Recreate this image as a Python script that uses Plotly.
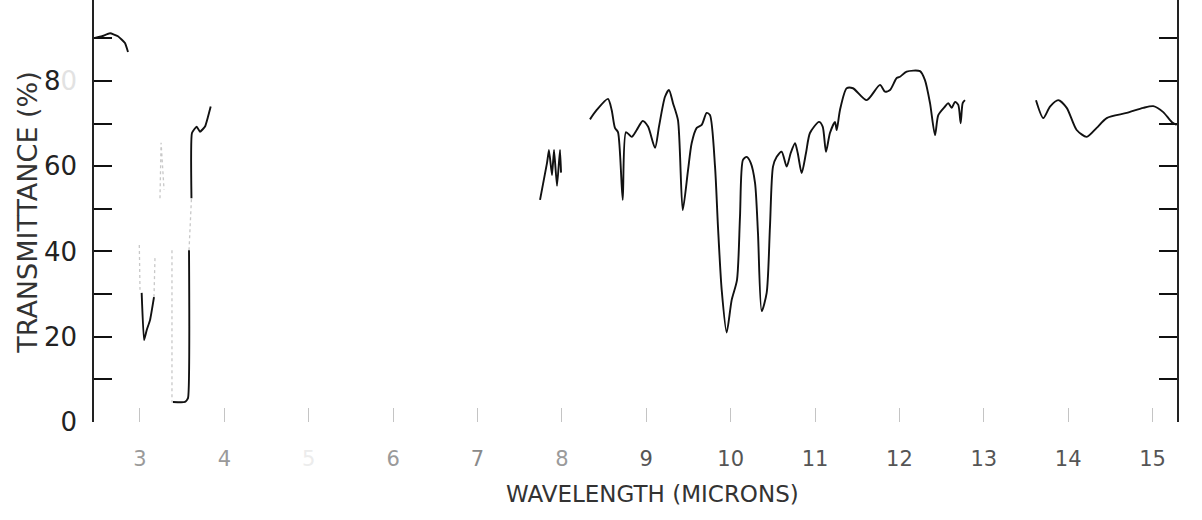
import plotly.graph_objects as go

# Infrared transmittance spectrum, wavelength in microns vs transmittance in %.
# Each list pair is a continuous run of the recorded trace; gaps are left
# where the recording is not legible.

# 2.5 µm baseline
seg_a_wl = [2.467, 2.55, 2.645, 2.739, 2.822, 2.858]
seg_a_t = [90.1, 90.5, 91.2, 90.5, 88.9, 86.8]

# O-H band near 3.05 µm
seg_b_wl = [3.02, 3.048, 3.08, 3.119, 3.166]
seg_b_t = [30.3, 19.2, 21.6, 23.9, 29.3]

# C-H band near 3.4-3.5 µm
seg_c1_wl = [3.391, 3.533, 3.569, 3.581]
seg_c1_t = [4.7, 4.7, 5.6, 40.3]
seg_c2_wl = [3.61, 3.616, 3.672, 3.711, 3.771, 3.806, 3.838]
seg_c2_t = [52.5, 67.8, 69.3, 68.1, 69.3, 71.6, 74.0]

# 7.7-8.0 µm doublet
seg_d_wl = [7.741, 7.824, 7.847, 7.883, 7.907, 7.942, 7.978, 7.99]
seg_d_t = [52.1, 60.8, 63.8, 57.9, 63.8, 55.4, 63.8, 58.5]

# fingerprint region 8.3-12.8 µm
seg_e_wl = [8.333, 8.413, 8.546, 8.590, 8.629, 8.665, 8.721, 8.760, 8.827,
            8.887, 8.958, 9.021, 9.104, 9.151, 9.222, 9.269, 9.317, 9.376,
            9.432, 9.495, 9.538, 9.598, 9.657, 9.716, 9.755, 9.815, 9.850,
            9.894, 9.953, 10.012, 10.075, 10.111, 10.146, 10.190, 10.238,
            10.289, 10.324, 10.368, 10.427, 10.466, 10.502, 10.546, 10.605,
            10.664, 10.712, 10.763, 10.795, 10.842, 10.893, 10.940, 11.047,
            11.091, 11.130, 11.177, 11.237, 11.257, 11.296, 11.375, 11.450,
            11.612, 11.770, 11.829, 11.889, 11.968, 12.007, 12.086, 12.244,
            12.303, 12.363, 12.422, 12.461, 12.540, 12.579, 12.620, 12.659,
            12.698, 12.726, 12.750, 12.777]
seg_e_t = [71.0, 73.2, 75.8, 73.2, 69.0, 68.0, 52.1, 68.0, 66.9,
           68.5, 70.6, 69.3, 64.3, 69.3, 76.3, 77.9, 74.8, 70.8,
           49.7, 59.1, 65.4, 69.0, 69.7, 72.5, 72.0, 59.9, 45.8,
           31.0, 21.0, 28.6, 33.3, 48.2, 61.5, 62.2, 60.8,
           56.1, 44.3, 26.0, 30.3, 45.8, 59.9, 62.2, 63.4,
           59.9, 63.1, 65.4, 63.1, 58.4, 63.1, 67.8, 70.4,
           69.3, 63.4, 67.8, 70.4, 68.5, 73.2, 78.3, 78.3,
           75.5, 79.1, 77.5, 77.9, 80.7, 81.0, 82.2, 82.3,
           80.2, 74.8, 67.3, 72.0, 74.0, 74.8, 73.7, 75.1,
           74.4, 70.1, 74.8, 75.5]

# 13.6-15.3 µm
seg_f_wl = [13.619, 13.705, 13.785, 13.883, 13.983, 14.101, 14.220, 14.338,
            14.457, 14.694, 14.890, 15.009, 15.127, 15.227, 15.286]
seg_f_t = [75.5, 71.3, 74.0, 75.5, 73.7, 68.5, 66.9, 69.0,
           71.3, 72.5, 73.7, 74.1, 72.7, 70.4, 69.7]

# faintly recorded stretches of the trace
faint_wl = [2.992, 3.0, None, 3.166, 3.178, None, 3.237, 3.25, 3.285, None,
            3.379, 3.379, 3.391, None, 3.581, 3.61]
faint_t = [41.5, 31.0, None, 29.3, 38.7, None, 52.5, 65.5, 54.5, None,
           40.3, 4.7, 4.7, None, 40.3, 52.5]

x_ticks = [3, 4, 5, 6, 7, 8, 9, 10, 11, 12, 13, 14, 15]
x_labels = ["<span style='color:#9a9a9a'>3</span>",
            "<span style='color:#9a9a9a'>4</span>",
            "<span style='color:#ececec'>5</span>",
            "<span style='color:#9a9a9a'>6</span>",
            "<span style='color:#8a8a8a'>7</span>",
            "<span style='color:#9a9a9a'>8</span>",
            "9", "10", "11", "12", "13", "14", "15"]
y_ticks = [0, 10, 20, 30, 40, 50, 60, 70, 80, 90]
y_labels = ["0", "", "20", "", "40", "", "60", "",
            "8<span style='color:#e2e2e2'>0</span>", ""]


def join(*segs):
    xs, ys = [], []
    for sx, sy in segs:
        if xs:
            xs.append(None)
            ys.append(None)
        xs.extend(sx)
        ys.extend(sy)
    return xs, ys


sharp_x, sharp_y = join((seg_a_wl, seg_a_t), (seg_b_wl, seg_b_t),
                        (seg_c1_wl, seg_c1_t), (seg_c2_wl, seg_c2_t),
                        (seg_d_wl, seg_d_t))
smooth_x, smooth_y = join((seg_e_wl, seg_e_t), (seg_f_wl, seg_f_t))

trace_line = dict(color="#111111", width=1.9)

fig = go.Figure()
fig.add_trace(go.Scatter(x=faint_wl, y=faint_t, mode="lines",
                         line=dict(color="#c8c8c8", width=1.3, dash="dot"),
                         connectgaps=False, hoverinfo="skip",
                         showlegend=False))
fig.add_trace(go.Scatter(x=sharp_x, y=sharp_y, mode="lines",
                         line=dict(trace_line, shape="spline", smoothing=0.4),
                         connectgaps=False, showlegend=False))
fig.add_trace(go.Scatter(x=smooth_x, y=smooth_y, mode="lines",
                         line=dict(trace_line, shape="spline", smoothing=0.7),
                         connectgaps=False, showlegend=False))

fig.update_layout(
    width=1202, height=520,
    margin=dict(l=94, r=25, t=0, b=98),
    paper_bgcolor="white", plot_bgcolor="white",
    font=dict(family="DejaVu Sans", color="#222222"),
    annotations=[
        dict(text="WAVELENGTH (MICRONS)", xref="paper", yref="paper",
             x=0.516, y=-0.171, xanchor="center", yanchor="middle",
             showarrow=False, font=dict(size=23, color="#333333")),
        dict(text="TRANSMITTANCE (%)", xref="paper", yref="paper",
             x=-0.061, y=0.498, xanchor="center", yanchor="middle",
             textangle=-90, showarrow=False,
             font=dict(size=27, color="#333333")),
    ],
)
fig.update_xaxes(
    range=[2.455, 15.29],
    tickvals=x_ticks, ticktext=x_labels,
    ticks="inside", ticklen=14, tickwidth=1, tickcolor="#c4c4c4",
    ticklabelstandoff=22,
    tickfont=dict(size=21, color="#555555"),
    showline=False, showgrid=False, zeroline=False,
)
fig.update_yaxes(
    range=[0, 99],
    tickvals=y_ticks, ticktext=y_labels,
    ticks="inside", ticklen=18, tickwidth=2, tickcolor="#111111",
    ticklabelstandoff=10,
    tickfont=dict(size=26, color="#222222"),
    showline=True, linecolor="#222222", linewidth=1.5, mirror="ticks",
    showgrid=False, zeroline=False,
)

fig.write_html("out.html")
